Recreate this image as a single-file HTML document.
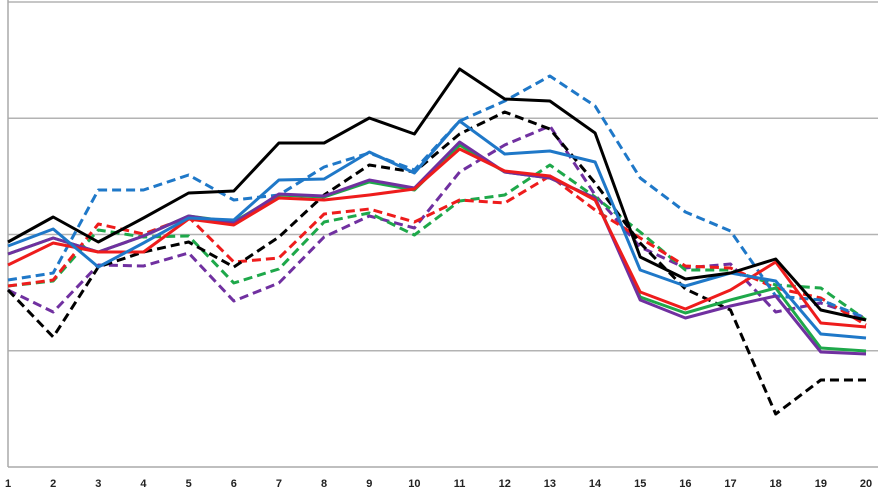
<!DOCTYPE html>
<html><head><meta charset="utf-8"><style>
html,body{margin:0;padding:0;background:#fff;}
svg{display:block;font-family:"Liberation Sans",sans-serif;}
</style></head><body>
<svg id="chart" width="889" height="495" viewBox="0 0 889 495"></svg>
<script>
const categories=[1,2,3,4,5,6,7,8,9,10,11,12,13,14,15,16,17,18,19,20];
const blackSolid=[225,250,225,249,274,276,324,324,349,333,398,368,366,334,210,188,194,208,157,147];
const blueSolid=[221,238,200,224,249,247,287,288,315,294,346,313,316,305,197,181,194,186,133,129];
const purpleSolid=[213,229,215,231,251,244,273,271,287,279,325,295,289,269,167,149,161,171,115,113];
const greenSolid=[213,229,215,231,251,245,272,270,285,277,322,295,289,269,170,154,167,179,119,116];
const redSolid=[202,224,215,215,248,242,269,267,272,278,318,296,291,267,175,158,177,205,144,140];
const blueDashed=[187,194,277,277,292,267,272,300,314,297,346,366,391,361,289,255,236,171,167,149];
const blackDashed=[177,130,200,215,225,200,230,272,302,295,333,355,338,284,224,178,157,53,87,87];
const redDashed=[181,187,243,233,250,205,209,253,258,245,267,264,291,257,229,201,199,179,169,142];
const greenDashed=[181,186,237,230,231,184,198,245,254,232,266,272,302,270,235,197,197,182,179,147];
const purpleDashed=[177,155,202,201,214,166,184,230,251,239,295,322,341,272,220,199,203,155,164,149];
const gridValues=[116.25,232.5,348.75,465];
const NS='http://www.w3.org/2000/svg';
const svg=document.getElementById('chart');
const x0=8,x1=866,yBase=467,yMax=465;
function xs(i){return x0+(x1-x0)*i/(categories.length-1);}
function ys(v){return yBase-v*(yBase-2)/yMax;}
function mk(t,a){const e=document.createElementNS(NS,t);for(const k in a)e.setAttribute(k,a[k]);svg.appendChild(e);return e;}
gridValues.forEach(v=>{const g=mk('line',{x1:x0,x2:878,y1:ys(v),y2:ys(v),stroke:'#b3b3b3','stroke-width':1.5});

});
const ya=mk('line',{x1:x0,x2:x0,y1:0,y2:yBase,stroke:'#aaa','stroke-width':1.5});


const xa=mk('line',{x1:x0,x2:878,y1:yBase,y2:yBase,stroke:'#aaa','stroke-width':1.5});


categories.forEach((c,i)=>{const t=mk('text',{x:xs(i),y:487,'text-anchor':'middle','font-size':11,'font-weight':'bold',fill:'#222'});t.textContent=c;

});
const series=[
['purple-dashed',purpleDashed,'#7030a0',true],
['green-dashed',greenDashed,'#1ea84a',true],
['red-dashed',redDashed,'#ee1c1c',true],
['black-dashed',blackDashed,'#000',true],
['blue-dashed',blueDashed,'#1f78c8',true],
['green-solid',greenSolid,'#1ea84a',false],
['purple-solid',purpleSolid,'#7030a0',false],
['red-solid',redSolid,'#ee1c1c',false],
['blue-solid',blueSolid,'#1f78c8',false],
['black-solid',blackSolid,'#000',false]];
series.forEach(s=>{const d=s[1].map((v,i)=>(i?'L':'M')+xs(i).toFixed(1)+','+ys(v).toFixed(1)).join('');
const p=mk('path',{d:d,fill:'none',stroke:s[2],'stroke-width':3,'stroke-linejoin':'round'});
if(s[3])p.setAttribute('stroke-dasharray','9,5');

});
</script>
</body></html>
